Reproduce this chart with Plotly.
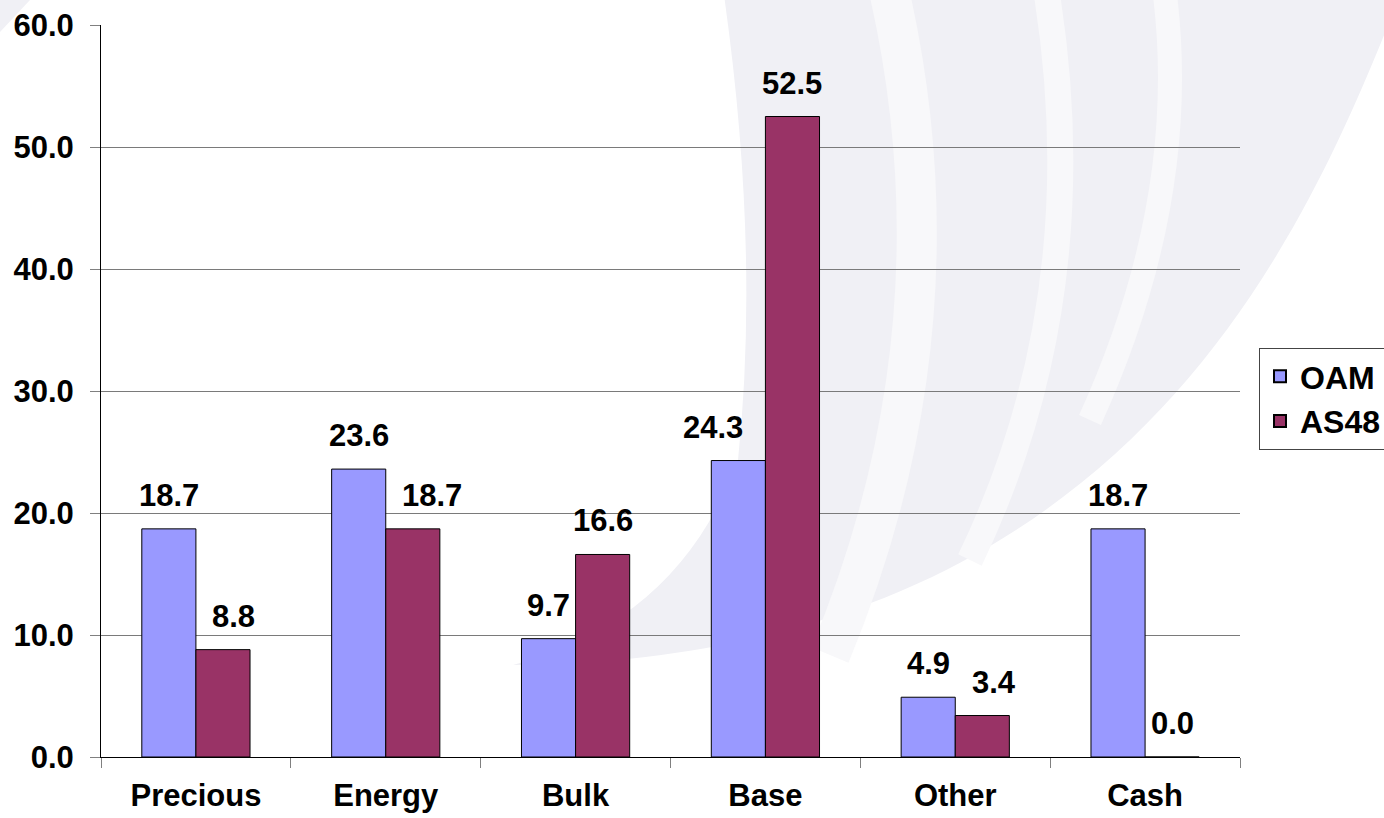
import plotly.graph_objects as go

categories = ["Precious", "Energy", "Bulk", "Base", "Other", "Cash"]
oam = [18.7, 23.6, 9.7, 24.3, 4.9, 18.7]
as48 = [8.8, 18.7, 16.6, 52.5, 3.4, 0.0]
y_ticks = [0, 10, 20, 30, 40, 50, 60]
y_ticktext = ["0.0", "10.0", "20.0", "30.0", "40.0", "50.0", "60.0"]

# label nudges (px) as placed in the original to avoid overlaps
label_nudge = {("OAM", "Base"): -25, ("AS48", "Precious"): 11,
               ("AS48", "Energy"): 19, ("AS48", "Other"): 12}

W, H = 1384, 818
L, R, T, B = 101, 1240, 25, 757
FONT = "Liberation Sans, Arial, sans-serif"
BARGAP = 0.43


def px(x):
    return (x - L) / (R - L)


def py(y):
    return (B - y) / (B - T)


def path(cmds):
    out = []
    for c in cmds:
        if isinstance(c, str):
            out.append(c)
        else:
            out.append(f"{px(c[0]):.5f},{py(c[1]):.5f}")
    return " ".join(out)


fig = go.Figure()
fig.add_trace(go.Bar(name="OAM", x=categories, y=oam,
                     marker=dict(color="#9999FF", line=dict(color="#000000", width=1))))
fig.add_trace(go.Bar(name="AS48", x=categories, y=as48,
                     marker=dict(color="#993366", line=dict(color="#000000", width=1))))

# data labels
cat_w = (R - L) / len(categories)
half = cat_w * (1 - BARGAP) / 4
for name, vals, sh in (("OAM", oam, -half), ("AS48", as48, half)):
    for c, v in zip(categories, vals):
        fig.add_annotation(x=c, y=v, text=f"{v:.1f}", showarrow=False,
                           xshift=sh + label_nudge.get((name, c), 0), yshift=14, yanchor="bottom",
                           font=dict(family=FONT, size=31, color="#000000", weight="bold"))

# decorative background swoosh
gray = "#F0F0F5"
shapes = []
shapes.append(dict(type="path", xref="paper", yref="paper", layer="below",
                   path=path(["M", (724, -5), "L", (1400, -5), "C", (1300, 250), (1120, 660), (513, 665),
                              "Q", (680, 620), (738, 460), "Q", (760, 250), (724, -5), "Z"]),
                   fillcolor=gray, line=dict(width=0)))
shapes.append(dict(type="path", xref="paper", yref="paper", layer="below",
                   path=path(["M", (0, 0), "L", (30, 0), "L", (0, 32), "Z"]),
                   fillcolor=gray, line=dict(width=0)))
for cmds, wdt in (
    (["M", (890, -5), "Q", (965, 330), (830, 655)], 40),
    (["M", (1047, -5), "Q", (1095, 300), (970, 560)], 26),
    (["M", (1165, -5), "Q", (1190, 200), (1090, 420)], 24),
):
    shapes.append(dict(type="path", xref="paper", yref="paper", layer="below",
                       path=path(cmds), line=dict(color="#F8F8FA", width=wdt)))

fig.update_layout(
    width=W, height=H,
    margin=dict(l=L, r=W - R, t=T, b=H - B, pad=0, autoexpand=False),
    paper_bgcolor="#FFFFFF",
    plot_bgcolor="rgba(0,0,0,0)",
    barmode="group", bargap=BARGAP, bargroupgap=0,
    font=dict(family=FONT, size=31, color="#000000"),
    shapes=shapes,
    showlegend=True,
    legend=dict(x=px(1259), y=py(348), xanchor="left", yanchor="top",
                bgcolor="#FFFFFF", bordercolor="#444444", borderwidth=1,
                font=dict(family=FONT, size=32, color="#000000", weight="bold"),
                tracegroupgap=0, itemsizing="constant"),
    xaxis=dict(
        type="category", tickson="boundaries", ticks="outside", ticklen=10,
        tickcolor="#808080", tickwidth=1,
        showline=True, linecolor="#000000", linewidth=1,
        showgrid=False, ticklabelstandoff=11, automargin=False,
        tickfont=dict(family=FONT, size=31, color="#000000", weight="bold"),
    ),
    yaxis=dict(
        range=[0, 60], tickvals=y_ticks, ticktext=y_ticktext,
        ticks="outside", ticklen=10, tickcolor="#808080", tickwidth=1,
        showline=True, linecolor="#000000", linewidth=1,
        showgrid=True, gridcolor="#7A7A7A", gridwidth=1,
        zeroline=False, ticklabelstandoff=10, automargin=False,
        tickfont=dict(family=FONT, size=31, color="#000000", weight="bold"),
    ),
)

fig.write_html("out.html")
